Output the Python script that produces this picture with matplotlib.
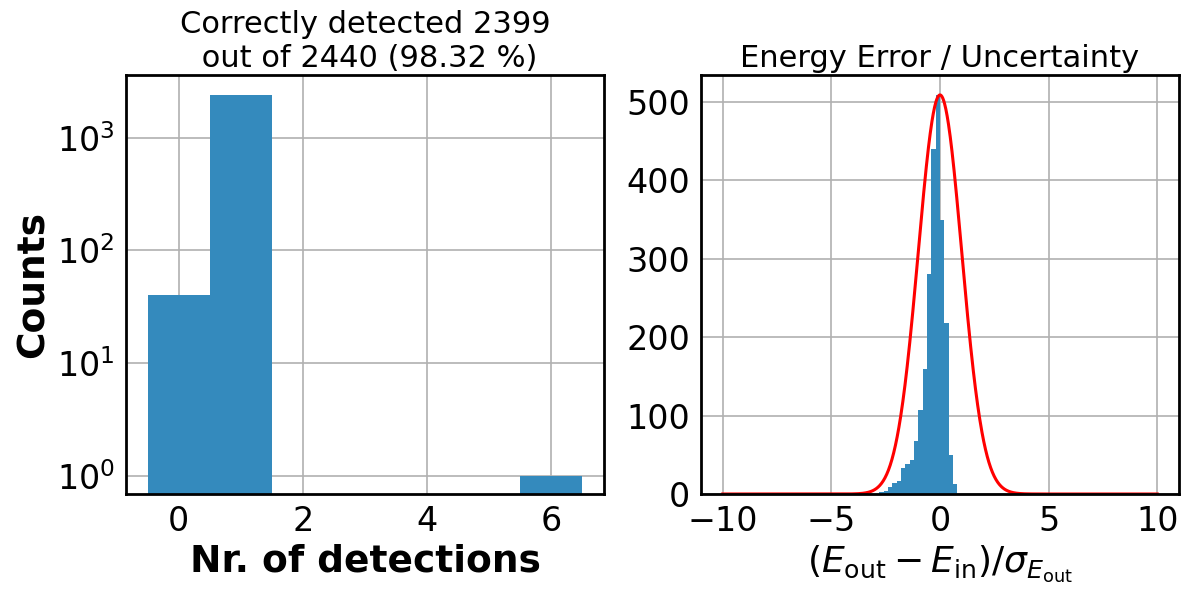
import numpy as np
import matplotlib
matplotlib.use("Agg")
from matplotlib import pyplot as plt

# number of detections per injected source
det_values = [0, 1, 6]
det_counts = [40, 2399, 1]
n_total = 2440
n_correct = 2399

# (E_out - E_in) / sigma histogram, bins of 0.2 between -10 and 10
err_bin_left = [-2.8, -2.6, -2.4, -2.2, -2.0, -1.8, -1.6, -1.4, -1.2, -1.0,
                -0.8, -0.6, -0.4, -0.2, 0.0, 0.2, 0.4, 0.6]
err_counts = [3, 4, 9, 14, 17, 33, 38, 43, 68, 107,
              159, 280, 440, 509, 350, 218, 50, 13]

BLUE = '#348ABD'

plt.rcParams['font.size'] = 24
plt.rcParams['axes.linewidth'] = 2
plt.rcParams['grid.color'] = '#b0b0b0'
plt.rcParams['grid.linewidth'] = 1.2

fig, (ax1, ax2) = plt.subplots(1, 2, figsize=(11.86, 5.89), dpi=100)
fig.subplots_adjust(left=0.1062, right=0.9941, bottom=0.1613, top=0.8727, wspace=0.203)

# left: detections per source, log scale
ax1.hist(det_values, bins=np.arange(-0.5, 7.0, 1.0), weights=det_counts,
         color=BLUE, log=True)
ax1.set_ylim(0.687, 3596)
ax1.set_xticks([0, 2, 4, 6])
ax1.grid(True)
ax1.set_axisbelow(True)
ax1.tick_params(length=0, pad=8, labelsize=24)
ax1.tick_params(which='minor', length=0)
ax1.set_xlabel('Nr. of detections', fontweight='bold', fontsize=27)
ax1.set_ylabel('Counts', fontweight='bold', fontsize=27)
ax1.set_title('Correctly detected %d\n out of %d (%.2f %%)'
              % (n_correct, n_total, 100.0 * n_correct / n_total), fontsize=22)

# right: normalised energy error
bins = np.linspace(-10, 10, 101)
centers = np.array(err_bin_left) + 0.1
ax2.hist(centers, bins=bins, weights=err_counts, color=BLUE)
xg = np.linspace(-10, 10, 1000)
ax2.plot(xg, max(err_counts) * np.exp(-0.5 * xg**2), color='red', lw=2.2)
ax2.set_xticks([-10, -5, 0, 5, 10])
ax2.set_yticks([0, 100, 200, 300, 400, 500])
ax2.grid(True)
ax2.set_axisbelow(True)
ax2.tick_params(length=0, pad=8, labelsize=24)
ax2.set_xlabel(r'$(E_{\rm out} - E_{\rm in})/\sigma_{E_{\rm out}}$', fontsize=26)
ax2.set_title('Energy Error / Uncertainty', fontsize=22)

fig.savefig('out.png', dpi=100)
